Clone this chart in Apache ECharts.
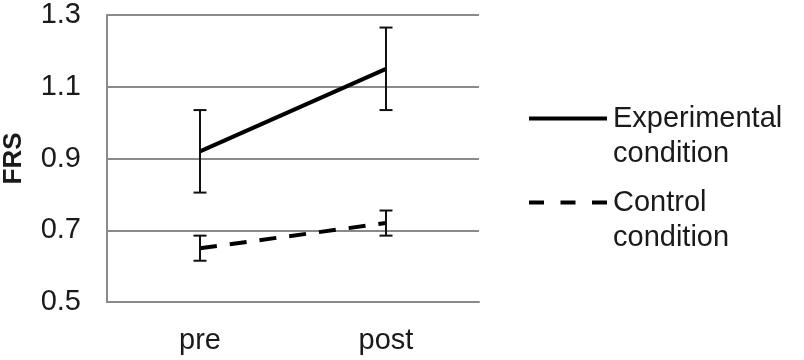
<!DOCTYPE html>
<html><head><meta charset="utf-8">
<script src="https://cdn.jsdelivr.net/npm/echarts@6/dist/echarts.min.js"></script>
<style>html,body{margin:0;padding:0;background:#fff}#c{width:804px;height:360px}</style>
</head><body><div id="c"></div>
<script>
const categories = ['pre', 'post'];
const seriesNames = ['Experimental condition', 'Control condition'];
const experimentalMean = [0.92, 1.15];
const experimentalErr = [0.115, 0.115];
const controlMean = [0.65, 0.72];
const controlErr = [0.035, 0.035];
const yTicks = [0.5, 0.7, 0.9, 1.1, 1.3];

function errData(mean, err) {
  return mean.map((m, i) => [i, m - err[i], m + err[i]]);
}
function errRender(params, api) {
  const x = api.value(0);
  const lo = api.coord([x, api.value(1)]);
  const hi = api.coord([x, api.value(2)]);
  const w = 6.5;
  const st = { stroke: '#111', lineWidth: 2 };
  return { type: 'group', children: [
    { type: 'line', shape: { x1: lo[0], y1: lo[1], x2: hi[0], y2: hi[1] }, style: st },
    { type: 'line', shape: { x1: lo[0] - w, y1: lo[1], x2: lo[0] + w, y2: lo[1] }, style: st },
    { type: 'line', shape: { x1: hi[0] - w, y1: hi[1], x2: hi[0] + w, y2: hi[1] }, style: st }
  ]};
}
const font = 'Liberation Sans, Arial, sans-serif';
const chart = echarts.init(document.getElementById('c'), null, { renderer: 'canvas' });
const legendText = {
  fontFamily: font, fontSize: 29, color: '#1a1a1a', padding: [0, 0, 0, 1],
  rich: {
    s: { fontFamily: font, fontSize: 29, lineHeight: 35 },
    t: { fontFamily: font, fontSize: 29, lineHeight: 35, color: '#1a1a1a' }
  }
};
const legendFmt = n => '{s| }\n' + n.split(' ').map(w => '{t|' + w + '}').join('\n');
chart.setOption({
  animation: false,
  backgroundColor: '#fff',
  grid: { left: 104, right: 325, top: 15, bottom: 58 },
  legend: [
    { data: [seriesNames[0]], left: 527, top: 69, orient: 'vertical', padding: 0,
      itemWidth: 78, itemHeight: 14, itemStyle: { opacity: 0 },
      lineStyle: { width: 4 },
      formatter: legendFmt, textStyle: legendText },
    { data: [seriesNames[1]], left: 527, top: 153, orient: 'vertical', padding: 0,
      itemWidth: 78, itemHeight: 14, itemStyle: { opacity: 0 },
      lineStyle: { width: 4, type: [15, 16.5] },
      formatter: legendFmt, textStyle: legendText }
  ],
  xAxis: {
    type: 'category', data: categories, boundaryGap: true,
    axisLine: { lineStyle: { color: '#8a8a8a', width: 2 } },
    axisTick: { inside: true, length: 7, lineStyle: { color: '#8a8a8a', width: 2 } },
    axisLabel: { fontFamily: font, fontSize: 29, color: '#1a1a1a', margin: 24 }
  },
  yAxis: {
    type: 'value', min: yTicks[0], max: yTicks[yTicks.length - 1], interval: 0.2,
    name: 'FRS', nameLocation: 'middle', nameGap: 80,
    nameTextStyle: { fontFamily: font, fontSize: 26, fontWeight: 'bold', color: '#1a1a1a' },
    axisLine: { show: true, lineStyle: { color: '#8a8a8a', width: 2 } },
    axisTick: { show: false },
    splitLine: { lineStyle: { color: '#8a8a8a', width: 2 } },
    axisLabel: { fontFamily: font, fontSize: 29, color: '#1a1a1a', margin: 26,
      formatter: v => v.toFixed(1) }
  },
  series: [
    { name: seriesNames[0], type: 'line', data: experimentalMean, symbol: 'none',
      lineStyle: { color: '#000', width: 4 }, itemStyle: { color: '#000' }, z: 3 },
    { name: seriesNames[1], type: 'line', data: controlMean, symbol: 'none',
      lineStyle: { color: '#000', width: 4, type: [17, 13] }, itemStyle: { color: '#000' }, z: 3 },
    { type: 'custom', renderItem: errRender, data: errData(experimentalMean, experimentalErr), z: 4 },
    { type: 'custom', renderItem: errRender, data: errData(controlMean, controlErr), z: 4 }
  ]
});
</script></body></html>
